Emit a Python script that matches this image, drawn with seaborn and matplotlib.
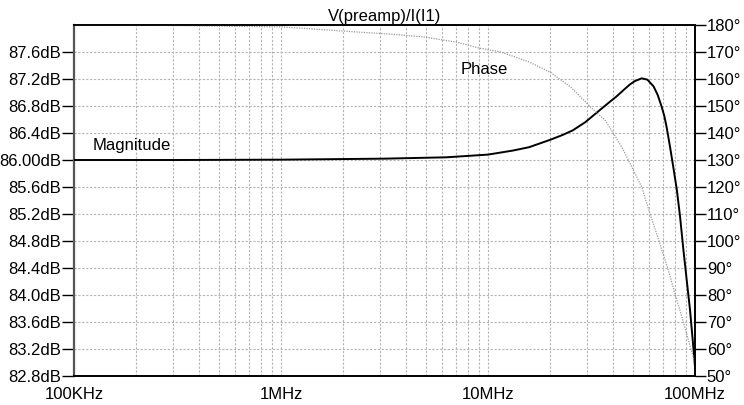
import numpy as np
import pandas as pd
import matplotlib
matplotlib.use("Agg")
import matplotlib.pyplot as plt
import seaborn as sns
from matplotlib.ticker import LogLocator, NullFormatter

# ---- data ----
freq_mag_hz = [1.0e5, 3.16e5, 1.0e6, 3.16e6, 6.31e6, 10.0e6, 13.2e6, 15.8e6,
               20.0e6, 22.9e6, 25.7e6, 29.5e6, 34.7e6, 38.0e6, 41.7e6,
               45.7e6, 48.5e6, 51.3e6, 55.3e6, 58.9e6, 63.1e6, 66.1e6,
               69.0e6, 71.1e6, 72.9e6, 75.7e6, 78.5e6, 81.7e6, 84.7e6,
               87.9e6, 91.2e6, 94.6e6, 97.5e6, 100.0e6]
mag_db = [86.00, 86.00, 86.005, 86.02, 86.04, 86.08, 86.14, 86.19,
          86.30, 86.37, 86.44, 86.56, 86.74, 86.84, 86.94,
          87.05, 87.12, 87.17, 87.21, 87.19, 87.09, 86.96,
          86.79, 86.65, 86.49, 86.20, 85.90, 85.56, 85.16,
          84.67, 84.22, 83.78, 83.33, 82.94]

freq_phase_hz = [1.0e5, 3.16e5, 1.0e6, 1.445e6, 2.344e6, 3.548e6, 5.01e6,
                 7.08e6, 9.12e6, 11.4e6, 12.6e6, 15.8e6, 20.0e6, 25.1e6, 32.4e6,
                 36.7e6, 40.3e6, 44.7e6, 48.5e6, 55.2e6, 60.7e6, 67.0e6,
                 73.8e6, 80.4e6, 87.9e6, 95.5e6, 100.0e6]
phase_deg = [180.0, 179.8, 179.3, 178.5, 177.4, 176.5, 175.5,
             173.6, 171.4, 170.1, 169.0, 166.3, 162.5, 157.0, 148.5,
             144.8, 140.0, 134.2, 128.8, 120.1, 110.0, 100.0,
             90.0, 80.0, 70.0, 60.0, 55.0]

mag_ticks = [82.8, 83.2, 83.6, 84.0, 84.4, 84.8, 85.2, 85.6, 86.0, 86.4, 86.8, 87.2, 87.6]
mag_tick_labels = ["82.8dB", "83.2dB", "83.6dB", "84.0dB", "84.4dB", "84.8dB", "85.2dB",
                   "85.6dB", "86.00dB", "86.4dB", "86.8dB", "87.2dB", "87.6dB"]
phase_ticks = [50, 60, 70, 80, 90, 100, 110, 120, 130, 140, 150, 160, 170, 180]
phase_tick_labels = [f"{v}\u00b0" for v in phase_ticks]
freq_ticks = [1e5, 1e6, 1e7, 1e8]
freq_tick_labels = ["100KHz", "1MHz", "10MHz", "100MHz"]
title = "V(preamp)/I(I1)"

df_mag = pd.DataFrame({"f": freq_mag_hz, "db": mag_db})
df_ph = pd.DataFrame({"f": freq_phase_hz, "deg": phase_deg})

sns.set_style("white")
plt.rcParams['font.family'] = ['Liberation Sans', 'DejaVu Sans']
plt.rcParams['font.size'] = 12
for k in ('text.color', 'axes.labelcolor', 'xtick.color', 'ytick.color'):
    plt.rcParams[k] = 'black'

fig, ax = plt.subplots(figsize=(7.44, 4.05), dpi=100)
fig.subplots_adjust(left=74/744, right=695/744, top=1-25/405, bottom=1-376/405)
ax.set_xscale('log')
ax2 = ax.twinx()

sns.lineplot(data=df_mag, x="f", y="db", ax=ax, color="black", lw=1.4,
             estimator=None, sort=False, zorder=3)
sns.lineplot(data=df_ph, x="f", y="deg", ax=ax2, color="#9a9a9a", lw=0.9,
             linestyle=(0, (1, 1)), estimator=None, sort=False)

ax.set_xlim(1e5, 1e8)
ax.set_ylim(82.8, 88.0)
ax2.set_ylim(50, 180)

ax.set_xticks(freq_ticks)
ax.set_xticklabels(freq_tick_labels)
ax.xaxis.set_minor_locator(LogLocator(base=10, subs=np.arange(2, 10)))
ax.xaxis.set_minor_formatter(NullFormatter())
ax.set_yticks(mag_ticks)
ax.set_yticklabels(mag_tick_labels)
ax2.set_yticks(phase_ticks)
ax2.set_yticklabels(phase_tick_labels)

for a in (ax, ax2):
    a.set_xlabel("")
    a.set_ylabel("")

ax.tick_params(axis='x', which='major', direction='inout', length=10, width=1,
               pad=3, labelsize=12, colors='black')
ax.tick_params(axis='x', which='minor', direction='in', length=5, width=1, colors='black')
ax.tick_params(axis='y', which='major', direction='out', length=9, width=1,
               pad=0.5, labelsize=12, colors='black')
ax2.tick_params(axis='y', which='major', direction='out', length=8, width=1,
                pad=0.5, labelsize=12, colors='black')

grid_kw = dict(color="#b4b4b4", linestyle=(0, (2, 1.5)), linewidth=0.8)
ax.grid(True, which='both', axis='x', **grid_kw)
ax.grid(True, which='major', axis='y', **grid_kw)
ax.set_axisbelow(True)

for a in (ax, ax2):
    for name, sp in a.spines.items():
        sp.set_visible(True)
        sp.set_color("black")
        sp.set_linewidth(1.2)
ax.spines['left'].set_color("#555555")
ax.spines['left'].set_linewidth(1.6)
ax2.spines['left'].set_visible(False)

ax.set_title(title, fontsize=12, pad=3, color='black')
ax.text(0.0306, 0.644, "Magnitude", transform=ax.transAxes, fontsize=12,
        ha='left', va='baseline', color='black')
ax.text(0.623, 0.860, "Phase", transform=ax.transAxes, fontsize=12,
        ha='left', va='baseline', color='black')

fig.savefig("out.png", dpi=100)
